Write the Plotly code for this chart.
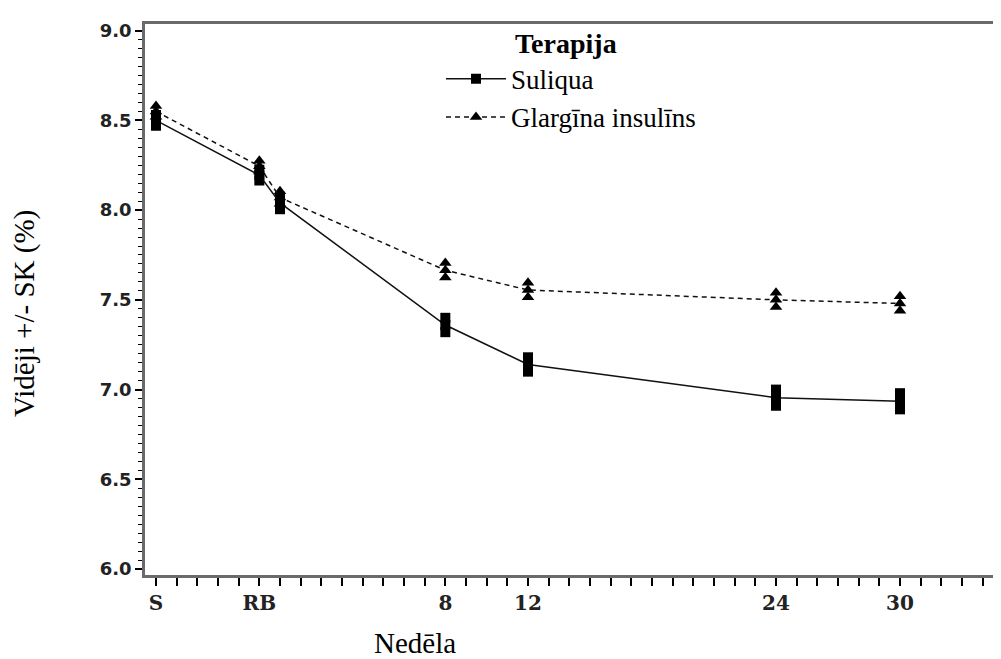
import plotly.graph_objects as go

# ---- data ----
weeks = [-6, -1, 0, 8, 12, 24, 30]
tick_weeks = [-6, -1, 8, 12, 24, 30]
tick_labels = ["S", "RB", "8", "12", "24", "30"]

suliqua_mean = [8.50, 8.195, 8.04, 7.36, 7.14, 6.955, 6.935]
suliqua_se = [0.03, 0.03, 0.035, 0.04, 0.04, 0.045, 0.045]

glargine_mean = [8.55, 8.245, 8.07, 7.665, 7.555, 7.50, 7.48]
glargine_se = [0.03, 0.03, 0.035, 0.04, 0.04, 0.04, 0.04]

series = [
    ("Suliqua", suliqua_mean, suliqua_se, "square", "solid", 10),
    ("Glargīna insulīns", glargine_mean, glargine_se, "triangle-up", "5px,4px", 11),
]

fig = go.Figure()
for name, mean, se, sym, dash, msize in series:
    hi = [m + s for m, s in zip(mean, se)]
    lo = [m - s for m, s in zip(mean, se)]
    fig.add_trace(go.Scatter(
        x=weeks + weeks, y=hi + lo, mode="markers",
        marker=dict(symbol=sym, size=msize, color="black"),
        showlegend=False, hoverinfo="skip", legendgroup=name,
    ))
    fig.add_trace(go.Scatter(
        x=weeks, y=mean, mode="lines+markers", name=name, legendgroup=name,
        line=dict(color="#111111", width=1.5, dash=dash),
        marker=dict(symbol=sym, size=msize, color="black"),
    ))

frame = "#6a6a6a"
# the page body adds an 8px offset, so margins are shifted by 8px
fig.update_layout(
    width=1001, height=659,
    margin=dict(l=137, r=15, t=12, b=92),
    paper_bgcolor="white", plot_bgcolor="white",
    showlegend=True,
    legend=dict(
        x=(441 - 145) / 849, y=(575 - 51) / 555, xanchor="left", yanchor="top",
        font=dict(family="Liberation Serif", size=27, color="black"),
        itemwidth=60, bgcolor="rgba(0,0,0,0)", tracegroupgap=0,
    ),
    xaxis=dict(
        range=[-6.532, 34.548], tickmode="array", tickvals=tick_weeks, ticktext=tick_labels,
        ticks="outside", ticklen=8, tickwidth=1.5, tickcolor="black",
        minor=dict(dtick=1, tick0=0, ticks="outside", ticklen=8, tickwidth=1.5, tickcolor="black"),
        showgrid=False, zeroline=False,
        showline=True, linecolor=frame, linewidth=2.5, mirror=True,
        tickfont=dict(family="DejaVu Serif", size=20, color="#222", weight="bold"),
    ),
    yaxis=dict(
        range=[5.967, 9.037], dtick=0.5, tick0=6, tickformat=".1f",
        ticks="outside", ticklen=7, tickwidth=1.5, tickcolor="black",
        minor=dict(dtick=0.05, tick0=6, ticks="outside", ticklen=4, tickwidth=1, tickcolor="black"),
        showgrid=False, zeroline=False,
        showline=True, linecolor=frame, linewidth=2.5, mirror=True,
        tickfont=dict(family="DejaVu Sans", size=18, color="#222", weight="bold"),
    ),
    yaxis2=dict(
        range=[5.967, 9.037], dtick=0.5, tick0=6, overlaying="y", side="right",
        ticks="outside", ticklen=6, tickwidth=1.5, tickcolor="black",
        showticklabels=False, showgrid=False, zeroline=False, showline=False,
    ),
    annotations=[
        dict(text="<b>Terapija</b>", x=(513 - 145) / 849, y=(575 - 40) / 555,
             xref="paper", yref="paper", xanchor="left", yanchor="middle", showarrow=False,
             font=dict(family="Liberation Serif", size=28, color="black")),
        dict(text="Nedēla", x=(415 - 145) / 849, y=(575 - 643) / 555,
             xref="paper", yref="paper", xanchor="center", yanchor="middle", showarrow=False,
             font=dict(family="Liberation Serif", size=29, color="black")),
        dict(text="Vidēji +/- SK (%)", x=(25 - 145) / 849, y=(575 - 312) / 555, textangle=-90,
             xref="paper", yref="paper", xanchor="center", yanchor="middle", showarrow=False,
             font=dict(family="Liberation Serif", size=29, color="black")),
    ],
)

fig.write_html("out.html")
